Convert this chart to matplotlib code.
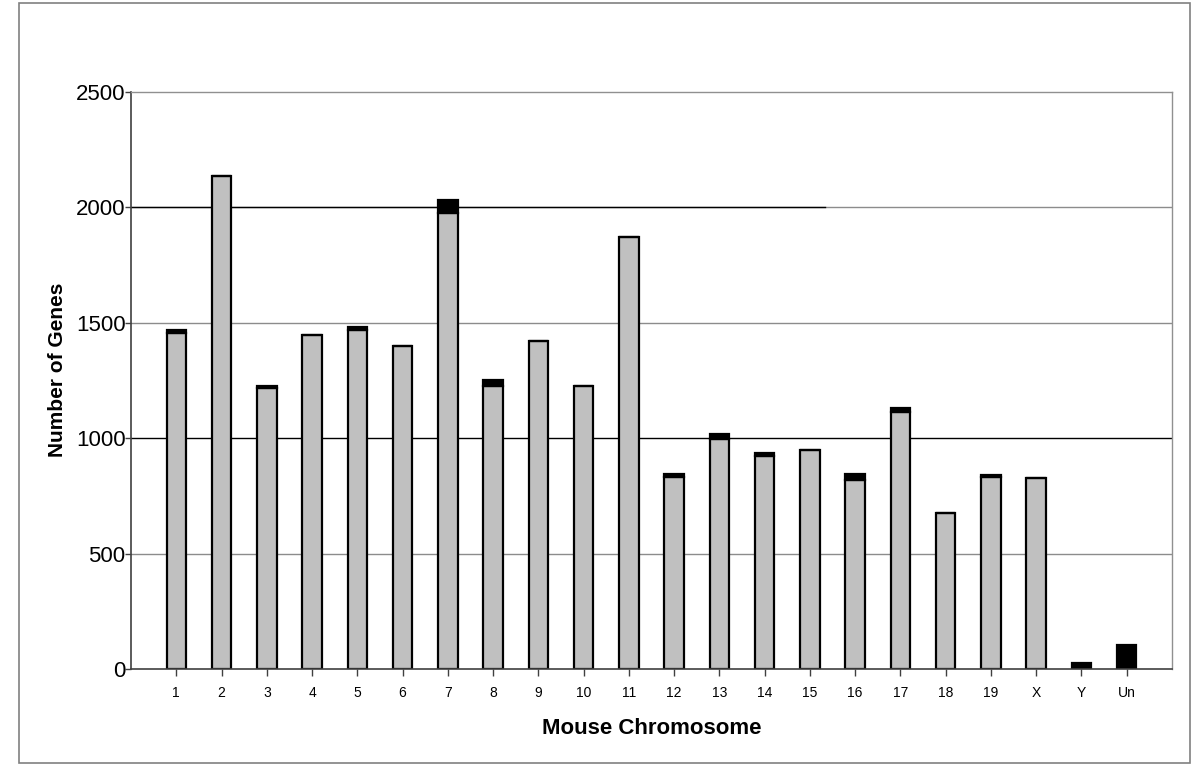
import matplotlib
matplotlib.use("Agg")
import matplotlib.pyplot as plt
from matplotlib.patches import Rectangle

plt.rcParams['font.family'] = ['Liberation Sans', 'DejaVu Sans']

chromosomes = ['1', '2', '3', '4', '5', '6', '7', '8', '9', '10', '11', '12',
               '13', '14', '15', '16', '17', '18', '19', 'X', 'Y', 'Un']
gray_counts = [1457, 2136, 1217, 1446, 1470, 1401, 1977, 1226, 1420, 1228, 1871,
               832, 995, 924, 949, 819, 1112, 675, 832, 829, 0, 0]
black_counts = [12, 0, 8, 0, 12, 0, 55, 25, 0, 0, 0,
                12, 24, 13, 0, 25, 19, 0, 9, 0, 25, 104]
y_ticks = [0, 500, 1000, 1500, 2000, 2500]

fig = plt.figure(figsize=(12, 7.65), dpi=100)
ax = fig.add_axes([131/1200, 1-669/765, (1172-131)/1200, (669-92)/765])

# outer frame
fig.patches.append(Rectangle((19/1200, 2/765), (1190-19)/1200, (762-2)/765,
                             transform=fig.transFigure, fill=False,
                             edgecolor='#808080', lw=1.2))

x = list(range(1, len(chromosomes) + 1))

# gridlines
for v in y_ticks[1:-1]:
    col = '#000000' if v == 1000 else '#8c8c8c'
    ax.axhline(v, color=col, lw=1.0, zorder=0)
ax.plot([0, 15.33], [2000, 2000], color='#000000', lw=1.0, zorder=0.5)

ax.bar(x, gray_counts, width=0.43, color='#c0c0c0', edgecolor='black', lw=1.6, zorder=2)
ax.bar(x, black_counts, width=0.43, bottom=gray_counts, color='black',
       edgecolor='black', lw=1.6, zorder=2)

ax.set_xlim(0, 23)
ax.set_ylim(0, 2500)
ax.set_yticks(y_ticks)
ax.set_yticklabels([str(v) for v in y_ticks], fontsize=16)
ax.set_xticks(x)
ax.set_xticklabels(chromosomes, fontsize=10)
ax.tick_params(axis='y', direction='out', length=4, width=1, color='#404040', pad=0)
ax.tick_params(axis='x', direction='out', length=5, width=1, color='#404040', pad=7)

for s in ['top', 'right']:
    ax.spines[s].set_color('#909090')
    ax.spines[s].set_linewidth(1.0)
for s in ['left', 'bottom']:
    ax.spines[s].set_color('#404040')
    ax.spines[s].set_linewidth(1.2)

ax.set_ylabel('Number of Genes', fontsize=15, fontweight='bold')
ax.yaxis.set_label_coords(-0.061, 0.518)
ax.set_xlabel('Mouse Chromosome', fontsize=16, fontweight='bold', labelpad=13)

fig.savefig('out.png', dpi=100)
